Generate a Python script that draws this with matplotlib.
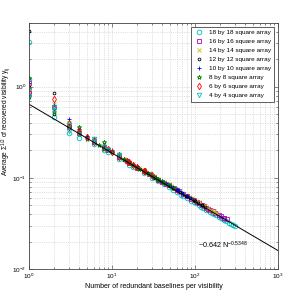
import matplotlib
matplotlib.use("Agg")
import matplotlib.pyplot as plt

plt.rcParams["font.family"] = ["Liberation Sans", "DejaVu Sans"]
plt.rcParams["mathtext.fontset"] = "custom"
plt.rcParams["mathtext.rm"] = "Liberation Sans"
plt.rcParams["mathtext.it"] = "Liberation Sans:italic"
plt.rcParams["mathtext.bf"] = "Liberation Sans:bold"

# fit shown on the chart
fit_coef = 0.642
fit_exp = -0.5348
fit_range = [1, 1000]

# number of redundant baselines (N) and average recovered visibility, per array
n18 = [1, 1, 2, 3, 4, 6, 8, 9, 12, 16, 18, 24, 30, 36, 42, 48, 54, 60, 68, 72, 80, 90, 96, 102,
       112, 119, 126, 136, 144, 153, 162, 170, 180, 192, 204, 216, 224, 238, 255, 272, 289, 306]
y18 = [3.1, 1.2, 0.46, 0.31, 0.275, 0.235, 0.20, 0.19, 0.163, 0.14, 0.133, 0.113, 0.101, 0.092,
       0.085, 0.079, 0.074, 0.070, 0.065, 0.064, 0.060, 0.056, 0.054, 0.053, 0.050, 0.048, 0.047,
       0.045, 0.044, 0.042, 0.041, 0.040, 0.039, 0.0375, 0.0365, 0.0352, 0.0346, 0.0336, 0.0324,
       0.0313, 0.0303, 0.0294]

n16 = [1, 1, 2, 3, 4, 6, 8, 9, 12, 15, 16, 20, 24, 28, 32, 36, 40, 45, 48, 56, 60, 64, 72, 80,
       90, 96, 105, 112, 120, 128, 135, 144, 150, 165, 176, 195, 208, 224, 225, 240]
y16 = [1.1, 0.86, 0.60, 0.36, 0.31, 0.25, 0.215, 0.20, 0.17, 0.152, 0.146, 0.13, 0.12, 0.109,
       0.102, 0.096, 0.091, 0.085, 0.083, 0.077, 0.074, 0.071, 0.066, 0.063, 0.059, 0.057, 0.0545,
       0.053, 0.050, 0.049, 0.047, 0.046, 0.045, 0.043, 0.0415, 0.039, 0.038, 0.0365, 0.036, 0.035]

n14 = [1, 2, 3, 4, 6, 8, 9, 12, 14, 16, 18, 21, 24, 28, 32, 36, 42, 48, 52, 56, 65, 70, 78, 84,
       91, 98, 104, 112, 126, 130, 143, 156, 168, 169, 182]
y14 = [1.05, 0.65, 0.40, 0.33, 0.26, 0.22, 0.205, 0.176, 0.16, 0.15, 0.142, 0.13, 0.122, 0.112,
       0.104, 0.098, 0.090, 0.085, 0.081, 0.078, 0.072, 0.069, 0.065, 0.062, 0.060, 0.057, 0.056,
       0.054, 0.050, 0.049, 0.047, 0.045, 0.043, 0.0425, 0.041]

n12 = [1, 1, 2, 2, 3, 4, 5, 6, 8, 9, 10, 12, 14, 16, 18, 20, 22, 24, 27, 30, 33, 36, 40, 44, 48,
       50, 55, 60, 66, 70, 77, 80, 88, 96, 99, 110, 120, 121, 132]
y12 = [4.1, 0.98, 0.86, 0.50, 0.38, 0.32, 0.28, 0.25, 0.215, 0.20, 0.19, 0.172, 0.158, 0.148,
       0.139, 0.131, 0.125, 0.12, 0.112, 0.106, 0.101, 0.096, 0.091, 0.087, 0.083, 0.081, 0.077,
       0.073, 0.070, 0.068, 0.064, 0.063, 0.060, 0.057, 0.056, 0.053, 0.051, 0.050, 0.048]

n10 = [1, 2, 3, 4, 5, 6, 8, 9, 10, 12, 15, 16, 18, 20, 24, 25, 27, 30, 32, 36, 40, 45, 48, 50,
       54, 60, 63, 64, 70, 72, 80, 81, 90]
y10 = [1.1, 0.63, 0.445, 0.34, 0.29, 0.27, 0.23, 0.21, 0.20, 0.18, 0.158, 0.15, 0.142, 0.134,
       0.122, 0.119, 0.114, 0.108, 0.104, 0.098, 0.093, 0.087, 0.084, 0.082, 0.079, 0.075, 0.073,
       0.072, 0.069, 0.067, 0.064, 0.063, 0.060]

n8 = [1, 1, 2, 3, 4, 4, 5, 6, 7, 8, 8, 9, 10, 12, 14, 15, 16, 18, 20, 21, 24, 25, 28, 30, 32,
      35, 36, 40, 42, 48, 49, 56]
y8 = [1.25, 0.78, 0.53, 0.37, 0.36, 0.30, 0.27, 0.25, 0.23, 0.245, 0.21, 0.20, 0.19, 0.172,
      0.16, 0.152, 0.146, 0.14, 0.13, 0.126, 0.118, 0.116, 0.11, 0.106, 0.103, 0.098, 0.097,
      0.092, 0.089, 0.084, 0.083, 0.077]

n6 = [1, 1, 2, 2, 3, 3, 4, 4, 5, 6, 6, 8, 9, 10, 12, 12, 15, 16, 18, 20, 24, 25, 30]
y6 = [0.95, 0.88, 0.74, 0.58, 0.40, 0.36, 0.33, 0.31, 0.28, 0.26, 0.245, 0.22, 0.205, 0.19,
      0.18, 0.17, 0.155, 0.148, 0.14, 0.132, 0.12, 0.118, 0.107]

n4 = [1, 1, 2, 2, 3, 3, 4, 6, 6, 8, 9, 12, 12]
y4 = [0.80, 0.92, 0.55, 0.60, 0.33, 0.38, 0.30, 0.25, 0.27, 0.22, 0.20, 0.175, 0.18]

series = [
    (n18, y18, "18 by 18 square array", "o", "c"),
    (n16, y16, "16 by 16 square array", "s", "m"),
    (n14, y14, "14 by 14 square array", "x", "y"),
    (n12, y12, "12 by 12 square array", ".", "k"),
    (n10, y10, "10 by 10 square array", "+", "b"),
    (n8, y8, "8 by 8 square array", "*", "g"),
    (n6, y6, "6 by 6 square array", "d", "r"),
    (n4, y4, "4 by 4 square array", "v", "c"),
]

fig = plt.figure(figsize=(2.99, 2.90), dpi=100)
ax = fig.add_axes([0.097, 0.072, 0.833, 0.849])

for n, y, lab, mk, col in series:
    ms = 4 if mk == "." else 3.3
    ax.plot(n, y, linestyle="none", marker=mk, color=col, markerfacecolor="none",
            markersize=ms, markeredgewidth=0.6, label=lab)

fit_y = [fit_coef * v ** fit_exp for v in fit_range]
ax.plot(fit_range, fit_y, color="k", linewidth=0.7)

ax.set_xscale("log")
ax.set_yscale("log")
ax.set_xlim(1, 1000)
ax.set_ylim(0.01, 5)

ax.grid(True, which="both", linestyle=":", color="#c4c4c4", linewidth=0.5)
ax.tick_params(which="both", direction="in", top=True, right=True, labelsize=4.6,
               width=0.4, color="#333333", pad=2)
ax.tick_params(which="major", length=3)
ax.tick_params(which="minor", length=1.5)
for s in ax.spines.values():
    s.set_linewidth(0.6)
    s.set_color("#444444")

ax.set_xlabel("Number of redundant baselines per visibility", fontsize=5, labelpad=1)
ax.set_ylabel(r"Average $\Sigma^{1/2}$ of recovered visibility $\mathrm{y_{ij}}$",
              fontsize=4.8)
ax.yaxis.set_label_coords(-0.064, 0.6)

ax.text(110, 0.0168, r"~0.642 N$^{-0.5348}$", fontsize=5.2)

leg = ax.legend(loc="upper right", fontsize=4.6, frameon=True, fancybox=False,
                edgecolor="#444444", framealpha=1, borderaxespad=0.6,
                handletextpad=0.8, labelspacing=0.55, borderpad=0.5, handlelength=1.5)
leg.get_frame().set_linewidth(0.6)

fig.savefig("out.png", dpi=100)
